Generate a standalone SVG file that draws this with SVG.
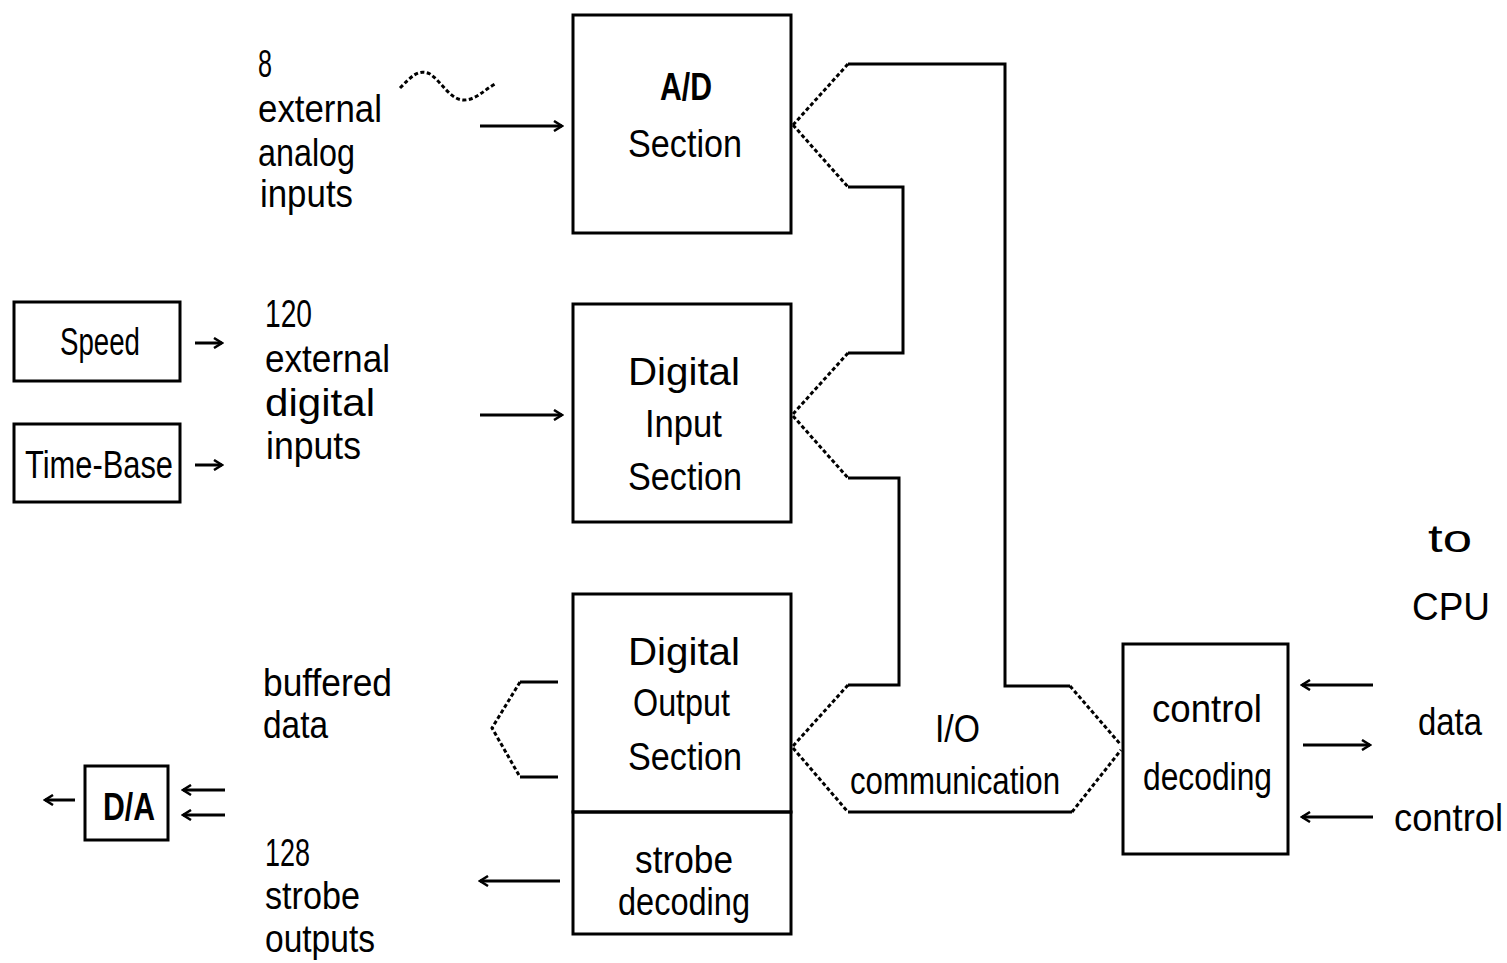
<svg xmlns="http://www.w3.org/2000/svg" width="1507" height="963" viewBox="0 0 1507 963">
<style>
.box{fill:none;stroke:#000;stroke-width:3}
.ln{fill:none;stroke:#000;stroke-width:3}
.dl{fill:none;stroke:#000;stroke-width:3;stroke-dasharray:4 2.5}
.ar{fill:none;stroke:#000;stroke-width:3;marker-end:url(#ah)}
.t{font-family:"Liberation Sans",Arial,sans-serif;font-size:38px;fill:#000}
.b{font-weight:bold}
</style>
<defs>
<marker id="ah" viewBox="0 0 12 12" refX="10" refY="6" markerWidth="12" markerHeight="12" markerUnits="userSpaceOnUse" orient="auto">
<path d="M2,1 L10,6 L2,11" fill="none" stroke="#000" stroke-width="2.5"/>
</marker>
</defs>
<rect width="1507" height="963" fill="#fff"/>

<g id="ad">
<rect class="box" x="573" y="15" width="218" height="218"/>
<text class="t b" x="660" y="100" textLength="52" lengthAdjust="spacingAndGlyphs">A/D</text>
<text class="t" x="628" y="157" textLength="114" lengthAdjust="spacingAndGlyphs">Section</text>
</g>
<g id="dinput">
<rect class="box" x="573" y="304" width="218" height="218"/>
<text class="t" x="628" y="385" textLength="112" lengthAdjust="spacingAndGlyphs">Digital</text>
<text class="t" x="645" y="437" textLength="77" lengthAdjust="spacingAndGlyphs">Input</text>
<text class="t" x="628" y="490" textLength="114" lengthAdjust="spacingAndGlyphs">Section</text>
</g>
<g id="doutput">
<rect class="box" x="573" y="594" width="218" height="218"/>
<text class="t" x="628" y="665" textLength="112" lengthAdjust="spacingAndGlyphs">Digital</text>
<text class="t" x="633" y="716" textLength="97" lengthAdjust="spacingAndGlyphs">Output</text>
<text class="t" x="628" y="770" textLength="114" lengthAdjust="spacingAndGlyphs">Section</text>
</g>
<g id="strobe">
<rect class="box" x="573" y="812" width="218" height="122"/>
<text class="t" x="635" y="873" textLength="98" lengthAdjust="spacingAndGlyphs">strobe</text>
<text class="t" x="618" y="915" textLength="132" lengthAdjust="spacingAndGlyphs">decoding</text>
</g>
<g id="ctrl">
<rect class="box" x="1123" y="644" width="165" height="210"/>
<text class="t" x="1152" y="722" textLength="110" lengthAdjust="spacingAndGlyphs">control</text>
<text class="t" x="1143" y="790" textLength="129" lengthAdjust="spacingAndGlyphs">decoding</text>
</g>
<g id="speed">
<rect class="box" x="14" y="302" width="166" height="79"/>
<text class="t" x="60" y="355" textLength="80" lengthAdjust="spacingAndGlyphs">Speed</text>
</g>
<g id="timebase">
<rect class="box" x="14" y="424" width="166" height="78"/>
<text class="t" x="25" y="478" textLength="148" lengthAdjust="spacingAndGlyphs">Time-Base</text>
</g>
<g id="da">
<rect class="box" x="85" y="766" width="83" height="74"/>
<text class="t b" x="103" y="820" textLength="52" lengthAdjust="spacingAndGlyphs">D/A</text>
</g>

<g id="labels">
<text class="t" x="258" y="77" textLength="14" lengthAdjust="spacingAndGlyphs">8</text>
<text class="t" x="258" y="122" textLength="124" lengthAdjust="spacingAndGlyphs">external</text>
<text class="t" x="258" y="166" textLength="97" lengthAdjust="spacingAndGlyphs">analog</text>
<text class="t" x="260" y="207" textLength="93" lengthAdjust="spacingAndGlyphs">inputs</text>
<text class="t" x="265" y="327" textLength="47" lengthAdjust="spacingAndGlyphs">120</text>
<text class="t" x="265" y="372" textLength="125" lengthAdjust="spacingAndGlyphs">external</text>
<text class="t" x="265" y="416" textLength="110" lengthAdjust="spacingAndGlyphs">digital</text>
<text class="t" x="266" y="459" textLength="95" lengthAdjust="spacingAndGlyphs">inputs</text>
<text class="t" x="263" y="696" textLength="129" lengthAdjust="spacingAndGlyphs">buffered</text>
<text class="t" x="263" y="738" textLength="65" lengthAdjust="spacingAndGlyphs">data</text>
<text class="t" x="265" y="866" textLength="45" lengthAdjust="spacingAndGlyphs">128</text>
<text class="t" x="265" y="909" textLength="95" lengthAdjust="spacingAndGlyphs">strobe</text>
<text class="t" x="265" y="952" textLength="110" lengthAdjust="spacingAndGlyphs">outputs</text>
<text class="t" x="935" y="742" textLength="45" lengthAdjust="spacingAndGlyphs">I/O</text>
<text class="t" x="850" y="794" textLength="210" lengthAdjust="spacingAndGlyphs">communication</text>
<text class="t" x="1428" y="552" textLength="44" lengthAdjust="spacingAndGlyphs">to</text>
<text class="t" x="1412" y="620" font-size="46" textLength="78" lengthAdjust="spacingAndGlyphs">CPU</text>
<text class="t" x="1418" y="735" textLength="64" lengthAdjust="spacingAndGlyphs">data</text>
<text class="t" x="1394" y="831" textLength="109" lengthAdjust="spacingAndGlyphs">control</text>
</g>

<g id="connectors">
<path class="dl" d="M400,88 C410,78 418,68 430,74 C442,82 450,100 464,100 C476,100 484,90 495,84"/>
<line class="ar" x1="480" y1="126" x2="562" y2="126"/>
<line class="ar" x1="480" y1="415" x2="562" y2="415"/>
<line class="ar" x1="195" y1="343" x2="222" y2="343"/>
<line class="ar" x1="195" y1="465" x2="222" y2="465"/>
<line class="ar" x1="560" y1="881" x2="480" y2="881"/>
<line class="ar" x1="75" y1="800" x2="45" y2="800"/>
<line class="ar" x1="225" y1="790" x2="183" y2="790"/>
<line class="ar" x1="225" y1="815" x2="183" y2="815"/>
<line class="ar" x1="1373" y1="685" x2="1302" y2="685"/>
<line class="ar" x1="1303" y1="745" x2="1370" y2="745"/>
<line class="ar" x1="1373" y1="817" x2="1302" y2="817"/>

<path class="dl" d="M793,125 L848,64"/>
<path class="ln" d="M848,64 L1005,64 L1005,686 L1070,686"/>
<path class="dl" d="M1070,686 L1121,745"/>
<path class="dl" d="M793,125 L848,187"/>
<path class="ln" d="M848,187 L903,187 L903,353 L848,353"/>
<path class="dl" d="M848,353 L793,414"/>
<path class="dl" d="M793,416 L848,478"/>
<path class="ln" d="M848,478 L899,478 L899,685 L848,685"/>
<path class="dl" d="M848,685 L793,746"/>
<path class="dl" d="M793,748 L848,812"/>
<path class="ln" d="M848,812 L1072,812"/>
<path class="dl" d="M1072,812 L1121,750"/>

<path class="ln" d="M558,682 L520,682"/>
<path class="dl" d="M520,682 L492,728 L520,777"/>
<path class="ln" d="M520,777 L558,777"/>
</g>
</svg>
